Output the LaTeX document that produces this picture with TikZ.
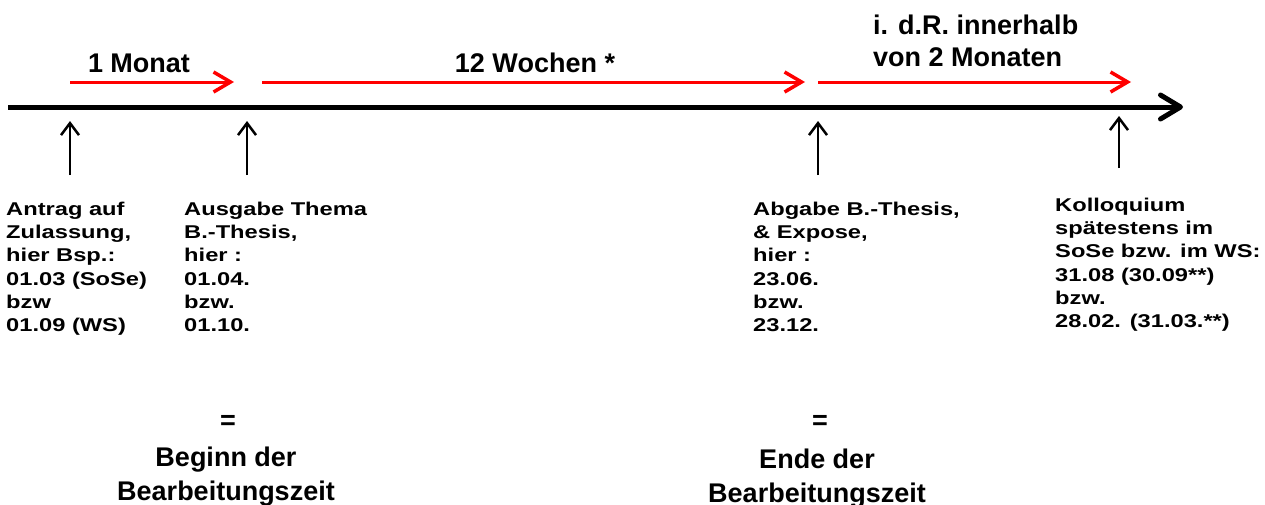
\documentclass[tikz,border=0pt]{standalone}
\usepackage{fontspec}
\setmainfont{Liberation Sans}
\newfontfamily\widef{Liberation Sans}[FakeStretch=1.28]
\usetikzlibrary{arrows.meta}
\begin{document}
\begin{tikzpicture}[x=1pt,y=-1pt,
  axis/.style={line width=5pt, -{Straight Barb[length=20pt,width=24pt,line width=5pt,round]}},
  span/.style={red, line width=3pt, -{Straight Barb[length=17pt,width=20pt,line width=3.5pt]}},
  event/.style={line width=2.5pt, -{Straight Barb[length=12pt,width=18pt,line width=2.5pt]}},
  small/.style={font=\widef\bfseries\fontsize{18.5}{23.3}\selectfont, align=left, inner sep=0pt, anchor=north west},
  big/.style={font=\bfseries\fontsize{27}{34}\selectfont, inner sep=0pt},
]
\useasboundingbox (0,0) rectangle (1265,504);
% axis
\coordinate (a0) at (8,107);
\coordinate (a1) at (1183,107);
\draw[axis] (a0) -- (a1);
% red spans
\coordinate (r1s) at (70,82);  \coordinate (r1e) at (234,82);
\coordinate (r2s) at (262,82); \coordinate (r2e) at (805,82);
\coordinate (r3s) at (818,82); \coordinate (r3e) at (1131,82);
\draw[span] (r1s) -- (r1e);
\draw[span] (r2s) -- (r2e);
\draw[span] (r3s) -- (r3e);
% event arrows
\coordinate (e1b) at (70,175);   \coordinate (e1t) at (70,121);
\coordinate (e2b) at (247,175);  \coordinate (e2t) at (247,121);
\coordinate (e3b) at (818,175);  \coordinate (e3t) at (818,121);
\coordinate (e4b) at (1119,168); \coordinate (e4t) at (1119,116);
\draw[event] (e1b) -- (e1t);
\draw[event] (e2b) -- (e2t);
\draw[event] (e3b) -- (e3t);
\draw[event] (e4b) -- (e4t);
% top labels
\node[big, anchor=base] (m1) at (139,72) {1 Monat};
\node[big, anchor=base] (m2) at (535,72) {12 Wochen *};
\node[big, align=left, anchor=north west, font=\bfseries\fontsize{27}{32}\selectfont] (m3) at (873,14.3) {i. d.R. innerhalb\\von 2 Monaten};
% event texts
\node[small] (t1) at (6,201.5) {Antrag auf\\Zulassung,\\hier Bsp.:\\01.03 (SoSe)\\bzw\\01.09 (WS)};
\node[small] (t2) at (184,201.5) {Ausgabe Thema\\B.-Thesis,\\hier :\\01.04.\\bzw.\\01.10.};
\node[small] (t3) at (753,201.5) {Abgabe B.-Thesis,\\\& Expose,\\hier :\\23.06.\\bzw.\\23.12.};
\node[small] (t4) at (1055,197.5) {Kolloquium\\spätestens im\\SoSe bzw. im WS:\\31.08 (30.09**)\\bzw.\\28.02. (31.03.**)};
% bottom
\node[big, anchor=base] (eq1) at (228,429) {=};
\node[big, align=center, anchor=north] (b1) at (226,446.3) {Beginn der\\Bearbeitungszeit};
\node[big, anchor=base] (eq2) at (820,429) {=};
\node[big, align=center, anchor=north] (b2) at (817,448.3) {Ende der\\Bearbeitungszeit};
\end{tikzpicture}
\end{document}
